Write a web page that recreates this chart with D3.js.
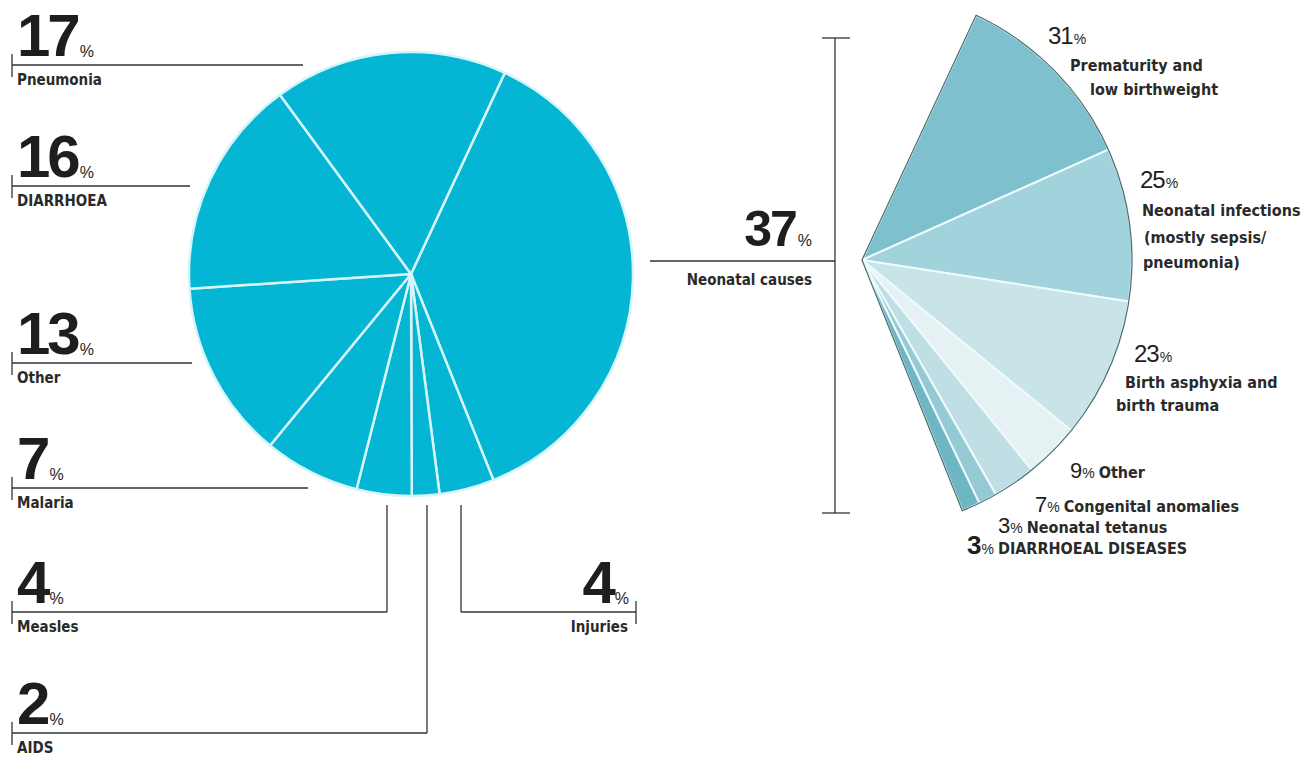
<!DOCTYPE html>
<html>
<head>
<meta charset="utf-8">
<script src="https://cdn.jsdelivr.net/npm/d3@7"></script>
<style>
  body { margin: 0; background: #fff; }
  .big { font-family: "Liberation Sans Narrow", "Liberation Sans", sans-serif; font-weight: bold; fill: #1e1e1e; }
  .cap { font-family: "Liberation Sans Narrow", "DejaVu Sans Condensed", sans-serif; font-weight: bold; fill: #2a2a2a; }
  .num { font-family: "Liberation Sans", sans-serif; fill: #1e1e1e; }
</style>
</head>
<body>
<div id="root"></div>
<script>
var config = {
  width: 1304,
  height: 759
};

// Under-five deaths by cause
const causes = ['Neonatal causes', 'Injuries', 'AIDS', 'Measles', 'Malaria', 'Other', 'DIARRHOEA', 'Pneumonia'];
const shares = [37, 4, 2, 4, 7, 13, 16, 17];

// Breakdown of the neonatal slice
const neoCauses = ['Prematurity and|low birthweight', 'Neonatal infections| (mostly sepsis/|pneumonia)',
  ' Birth asphyxia and|birth trauma', 'Other', 'Congenital anomalies', 'Neonatal tetanus', 'DIARRHOEAL DISEASES'];
const neoShares = [31, 25, 23, 9, 7, 3, 3];
const neoColors = ['#7ec0cd', '#a2d3dc', '#c9e4e9', '#e5f1f3', '#bfdfe5', '#95cad5', '#6fb6c5'];

const rad = Math.PI / 180;

const chart = d3.select('#root')
  .append('svg:svg')
  .attr('width', config.width)
  .attr('height', config.height);

////// MAIN PIE //////
const pieC = [411, 274];
const pieR = 222;
const startA = 25 * rad;

const pie = d3.pie().sort(null).value(d => d.v)
  .startAngle(startA).endAngle(startA + 2 * Math.PI);
const slices = pie(causes.map((c, i) => ({ c: c, v: shares[i] })));
const arc = d3.arc().innerRadius(0).outerRadius(pieR);

const pieG = chart.append('g').attr('transform', `translate(${pieC})`);
pieG.selectAll('path')
  .data(slices)
  .enter()
    .append('path')
    .attr('d', arc)
    .attr('fill', '#05b5d4')
    .attr('stroke', '#d6f5fa')
    .attr('stroke-width', 2.5)
    .attr('stroke-linejoin', 'round');

////// LEFT LABELS //////
// layout of each leader: y of line, right end x, optional vertical drop x
const leaders = {
  'Pneumonia': { y: 65, x2: 303 },
  'DIARRHOEA': { y: 186, x2: 190 },
  'Other': { y: 363, x2: 192 },
  'Malaria': { y: 488, x2: 308 },
  'Measles': { y: 612, x2: 387, drop: true },
  'AIDS': { y: 733, x2: 427, drop: true }
};
const lineCol = '#333';
const dropTop = pieC[1] + pieR + 9;

function bigNumber(g, v, x, y, anchor) {
  const t = g.append('text').attr('class', 'big').attr('x', x).attr('y', y)
    .attr('font-size', 60).attr('text-anchor', anchor || 'start');
  t.append('tspan').attr('letter-spacing', -3).text(v);
  t.append('tspan').attr('font-size', 16).attr('font-weight', 'normal').attr('dx', 2).attr('dy', 1).text('%');
  return t;
}

slices.forEach(s => {
  const L = leaders[s.data.c];
  if (!L) return;
  const g = chart.append('g');
  g.append('line').attr('x1', 12).attr('x2', L.x2).attr('y1', L.y).attr('y2', L.y)
    .attr('stroke', lineCol).attr('stroke-width', 1.3);
  g.append('line').attr('x1', 12).attr('x2', 12).attr('y1', L.y - 11).attr('y2', L.y + 12)
    .attr('stroke', lineCol).attr('stroke-width', 1.3);
  if (L.drop) {
    g.append('line').attr('x1', L.x2).attr('x2', L.x2).attr('y1', dropTop).attr('y2', L.y)
      .attr('stroke', lineCol).attr('stroke-width', 1.3);
  }
  bigNumber(g, s.data.v, 17, L.y - 9);
  g.append('text').attr('class', 'cap').attr('x', 17).attr('y', L.y + 20)
    .attr('font-size', 15).text(s.data.c);
});

// Injuries sits on the right, right-aligned
slices.filter(s => s.data.c === 'Injuries').forEach(s => {
  const y = 612, x1 = 461, x2 = 636;
  const g = chart.append('g');
  g.append('line').attr('x1', x1).attr('x2', x2).attr('y1', y).attr('y2', y)
    .attr('stroke', lineCol).attr('stroke-width', 1.3);
  g.append('line').attr('x1', x1).attr('x2', x1).attr('y1', dropTop).attr('y2', y)
    .attr('stroke', lineCol).attr('stroke-width', 1.3);
  g.append('line').attr('x1', x2).attr('x2', x2).attr('y1', y - 11).attr('y2', y + 12)
    .attr('stroke', lineCol).attr('stroke-width', 1.3);
  bigNumber(g, s.data.v, 629, y - 9, 'end');
  g.append('text').attr('class', 'cap').attr('x', 628).attr('y', y + 20)
    .attr('font-size', 15).attr('text-anchor', 'end').text(s.data.c);
});

////// NEONATAL CALLOUT //////
const neo = slices[0];
const bx = 835;
const call = chart.append('g');
call.append('line').attr('x1', 650).attr('x2', bx).attr('y1', 261).attr('y2', 261)
  .attr('stroke', lineCol).attr('stroke-width', 1.3);
call.append('line').attr('x1', bx).attr('x2', bx).attr('y1', 38).attr('y2', 513)
  .attr('stroke', lineCol).attr('stroke-width', 1.3);
[38, 513].forEach(y => {
  call.append('line').attr('x1', bx - 13).attr('x2', bx + 15).attr('y1', y).attr('y2', y)
    .attr('stroke', lineCol).attr('stroke-width', 1.3);
});
const nt = call.append('text').attr('class', 'big').attr('x', 812).attr('y', 246)
  .attr('font-size', 50).attr('text-anchor', 'end');
nt.append('tspan').attr('letter-spacing', -2).text(neo.data.v);
nt.append('tspan').attr('font-size', 16).attr('font-weight', 'normal').attr('dx', 2).text('%');
call.append('text').attr('class', 'cap').attr('x', 812).attr('y', 285)
  .attr('font-size', 15).attr('text-anchor', 'end').text(neo.data.c);

////// FAN //////
const fanC = [862, 260];
const fanR = 270;
const fanPie = d3.pie().sort(null)
  .startAngle(neo.startAngle).endAngle(neo.endAngle);
const fanSlices = fanPie(neoShares);
const fanArc = d3.arc().innerRadius(0).outerRadius(fanR);

const fanG = chart.append('g').attr('transform', `translate(${fanC})`);
fanG.selectAll('path')
  .data(fanSlices)
  .enter()
    .append('path')
    .attr('d', fanArc)
    .attr('fill', (d, i) => neoColors[i])
    .attr('stroke', '#eefbfd')
    .attr('stroke-width', 2);

// dark outline around the fan
fanG.append('path')
  .attr('d', d3.arc().innerRadius(0).outerRadius(fanR)({ startAngle: neo.startAngle, endAngle: neo.endAngle }))
  .attr('fill', 'none')
  .attr('stroke', '#4d6a70')
  .attr('stroke-width', 1.2);

// fan labels: number position, then caption lines
const fanLabels = [
  { x: 1048, y: 44, size: 24, caps: [[1070, 71], [1090, 95]] },
  { x: 1140, y: 188, size: 24, caps: [[1142, 216], [1144, 243], [1143, 268]] },
  { x: 1134, y: 362, size: 24, caps: [[1125, 388], [1116, 411]] },
  { x: 1070, y: 478, size: 22, inline: true },
  { x: 1035, y: 512, size: 22, inline: true },
  { x: 998, y: 533, size: 22, inline: true },
  { x: 967, y: 554, size: 26, inline: true, bold: true }
];

fanSlices.forEach((s, i) => {
  const L = fanLabels[i];
  const t = chart.append('text').attr('class', 'num').attr('x', L.x).attr('y', L.y)
    .attr('font-size', L.size)
    .attr('font-weight', L.bold ? 'bold' : 'normal');
  t.append('tspan').attr('letter-spacing', -1).text(s.data);
  t.append('tspan').attr('font-size', 14).attr('font-weight', 'normal').attr('dx', 1).text('%');
  const parts = neoCauses[i].split('|');
  if (L.inline) {
    t.append('tspan').attr('class', 'cap').attr('font-size', 16)
      .attr('dx', 4).text(parts[0]);
  } else {
    parts.forEach((p, j) => {
      chart.append('text').attr('class', 'cap').attr('x', L.caps[j][0]).attr('y', L.caps[j][1])
        .attr('font-size', 16).text(p.trim());
    });
  }
});
</script>
</body>
</html>
